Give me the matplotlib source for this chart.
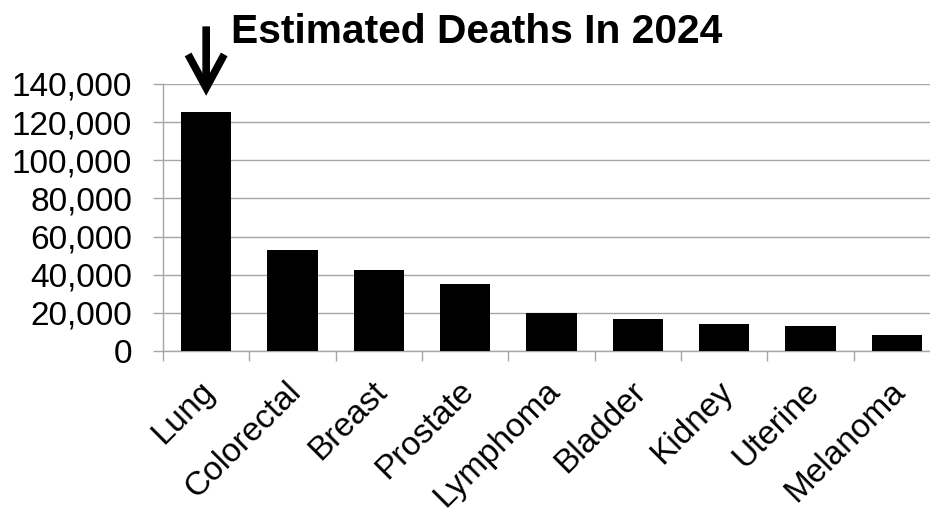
import matplotlib
matplotlib.use("Agg")
import matplotlib.pyplot as plt
from matplotlib.ticker import FuncFormatter, MultipleLocator
from matplotlib.transforms import ScaledTranslation
import numpy as np

plt.rcParams['font.family'] = ['Liberation Sans', 'DejaVu Sans']

cancer_types = ["Lung", "Colorectal", "Breast", "Prostate", "Lymphoma",
                "Bladder", "Kidney", "Uterine", "Melanoma"]
deaths_2024 = [125070, 53010, 42250, 35250, 20140, 16840, 14390, 13250, 8290]
title_text = "Estimated Deaths In 2024"

fig = plt.figure(figsize=(9.3, 5.11), dpi=100)
ax = fig.add_axes([163 / 930, 1 - 351 / 511, 777 / 930, 267 / 511])

x = np.arange(len(cancer_types))
ax.bar(x, deaths_2024, width=0.58, color="black", zorder=3)

ax.set_xlim(-0.5, len(cancer_types) - 0.5)
ax.set_ylim(0, 140000)
ax.yaxis.set_major_locator(MultipleLocator(20000))
ax.yaxis.set_major_formatter(FuncFormatter(lambda v, p: f"{int(v):,}"))
ax.grid(axis="y", color="#a6a6a6", linewidth=1.0, zorder=0)

grey = "#a6a6a6"
for side in ("top", "right"):
    ax.spines[side].set_visible(False)
for side in ("left", "bottom"):
    ax.spines[side].set_color(grey)
    ax.spines[side].set_linewidth(1.0)

ax.tick_params(axis="y", length=7.2, width=1.0, color=grey, pad=15,
               labelsize=24, labelcolor="black")
ax.set_xticks(x)
ax.set_xticklabels(cancer_types, rotation=45, ha="right",
                   rotation_mode="anchor", fontsize=24)
ax.tick_params(axis="x", which="major", length=0, pad=12)
ax.set_xticks(np.arange(len(cancer_types) + 1) - 0.5, minor=True)
ax.tick_params(axis="x", which="minor", length=7.5, width=1.0, color=grey)

shift = ScaledTranslation(-7 / 100, -8 / 100, fig.dpi_scale_trans)
for lbl in ax.get_xticklabels():
    lbl.set_transform(lbl.get_transform() + shift)

fig.text(477 / 930, 1 - 32 / 511, title_text, ha="center", va="center",
         fontsize=29.3, fontweight="bold")

# Arrow pointing down at the tallest bar
ax.annotate("", xy=(0, deaths_2024[0]), xytext=(0, 62),
            xycoords="data", textcoords="offset points",
            arrowprops=dict(arrowstyle="->,head_length=2.4,head_width=1.3",
                            mutation_scale=10, lw=5.5, color="black",
                            shrinkA=0, shrinkB=12,
                            capstyle="butt", joinstyle="miter"),
            annotation_clip=False)

fig.savefig("out.png", dpi=100)
